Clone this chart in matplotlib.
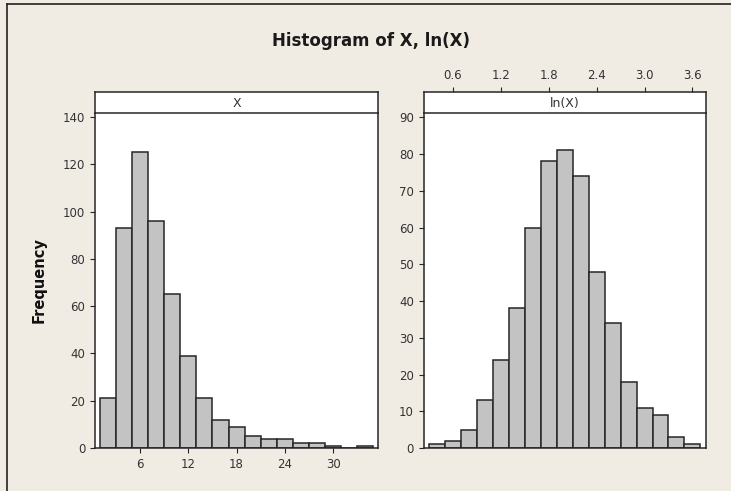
import numpy as np
import matplotlib.pyplot as plt
from matplotlib.lines import Line2D

# bin midpoints and counts for X (bin width 2)
x_mid = [2, 4, 6, 8, 10, 12, 14, 16, 18, 20, 22, 24, 26, 28, 30, 32, 34]
x_cnt = [21, 93, 125, 96, 65, 39, 21, 12, 9, 5, 4, 4, 2, 2, 1, 0, 1]

# bin midpoints and counts for ln(X) (bin width 0.2)
lx_mid = [0.4, 0.6, 0.8, 1.0, 1.2, 1.4, 1.6, 1.8, 2.0, 2.2, 2.4, 2.6, 2.8, 3.0, 3.2, 3.4, 3.6]
lx_cnt = [1, 2, 5, 13, 24, 38, 60, 78, 81, 74, 48, 34, 18, 11, 9, 3, 1]

x_ticks = [6, 12, 18, 24, 30]
lx_ticks = [0.6, 1.2, 1.8, 2.4, 3.0, 3.6]

bg = '#f1ece3'
bar_fc = '#c3c3c3'
edge = '#262626'
txt = '#333333'

plt.rcParams['font.family'] = ['DejaVu Sans']
plt.rcParams['font.size'] = 8.5

W, H = 731, 491
fig = plt.figure(figsize=(W / 100, H / 100), dpi=100, facecolor=bg)

def box(x0, x1, y0, y1):
    # pixel box (top-left origin) -> figure rect
    return [x0 / W, 1 - y1 / H, (x1 - x0) / W, (y1 - y0) / H]

def panel(x0, x1, xlim, ylim, mids, counts, width, label, yticks):
    ax = fig.add_axes(box(x0, x1, 113, 448))
    ax.bar(mids, counts, width=width, color=bar_fc, edgecolor=edge, linewidth=1.1)
    ax.set_xlim(*xlim)
    ax.set_ylim(*ylim)
    ax.set_yticks(yticks)
    ax.tick_params(colors=edge, labelcolor=txt, length=3.5, width=0.8)
    for s in ax.spines.values():
        s.set_color(edge)
        s.set_linewidth(1.1)
    ax.spines['top'].set_visible(False)
    strip = fig.add_axes(box(x0, x1, 91.5, 113))
    strip.set_xlim(*xlim)
    strip.set_yticks([])
    strip.set_xticks([])
    for s in strip.spines.values():
        s.set_color(edge)
        s.set_linewidth(1.1)
    strip.text(0.5, 0.45, label, transform=strip.transAxes, ha='center', va='center',
               color=txt, fontsize=9)
    return ax, strip

ax1, st1 = panel(95, 378, (0.41, 35.57), (0, 141.7), x_mid, x_cnt, 2,
                 'X', np.arange(0, 141, 20))
ax1.set_xticks(x_ticks)
ax1.set_ylabel('Frequency', fontsize=10.5, fontweight='bold', color='#111111', labelpad=12)

ax2, st2 = panel(423.5, 705.7, (0.231, 3.766), (0, 91.2), lx_mid, lx_cnt, 0.2,
                 'ln(X)', np.arange(0, 91, 10))
ax2.set_xticks([])
st2.set_xticks(lx_ticks)
st2.set_xticklabels([f'{v:.1f}' for v in lx_ticks])
st2.tick_params(axis='x', top=True, bottom=False, labeltop=True, labelbottom=False,
                colors=edge, labelcolor=txt, length=3.5, width=0.8)

fig.text(371 / W, 1 - 41 / H, 'Histogram of X, ln(X)', ha='center', va='center',
         fontsize=12, fontweight='bold', color='#1a1a1a')

# outer frame along top and left
fig.add_artist(Line2D([7 / W, 1], [1 - 4 / H, 1 - 4 / H], color='#222222', lw=1.2))
fig.add_artist(Line2D([7 / W, 7 / W], [0, 1 - 4 / H], color='#222222', lw=1.2))

fig.savefig('out.png', dpi=100, facecolor=bg)
